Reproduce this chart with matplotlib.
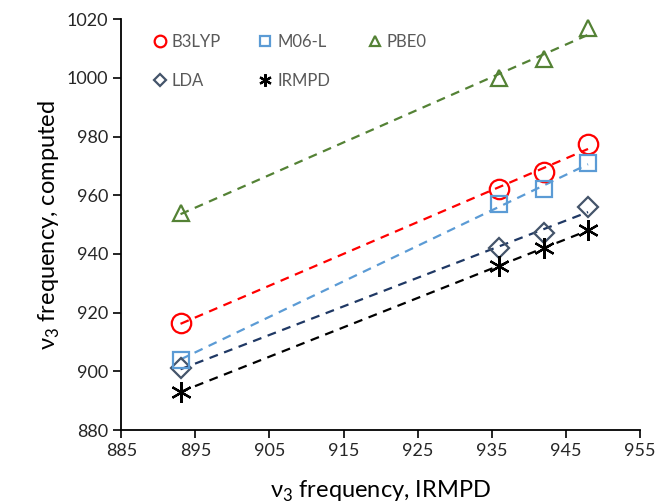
import numpy as np
import matplotlib
matplotlib.use("Agg")
import matplotlib.pyplot as plt

plt.rcParams['font.family'] = ['Lato', 'DejaVu Sans']
plt.rcParams['mathtext.fontset'] = 'custom'
plt.rcParams['mathtext.rm'] = 'Lato'

# experimental (IRMPD) frequencies on the x axis
irmpd_x = [893, 936, 942, 948]

# computed frequencies per functional
b3lyp = [916.5, 962, 968, 977.5]
m06l = [904, 957, 962, 971]
pbe0 = [954, 1000, 1006.5, 1017]
lda = [901, 942, 947, 956]
irmpd = [893, 936, 942, 948]

x_ticks = [885, 895, 905, 915, 925, 935, 945, 955]
y_ticks = [880, 900, 920, 940, 960, 980, 1000, 1020]

series = [
    # label, values, marker colour, line colour, marker, size
    ('B3LYP', b3lyp, '#FF0000', '#FF0000', 'o', 14),
    ('LDA', lda, '#44546A', '#1F3864', 'D', 10),
    ('M06-L', m06l, '#5B9BD5', '#5B9BD5', 's', 12),
    ('IRMPD', irmpd, '#000000', '#000000', (6, 2, 0), 15),
    ('PBE0', pbe0, '#548235', '#548235', '^', 12),
]

fig = plt.figure(figsize=(6.59, 5.03), dpi=100)
ax = fig.add_axes([0.184, 0.145, 0.787, 0.817])

xs = np.array(irmpd_x, dtype=float)
handles = []
for label, vals, mcol, lcol, mk, ms in series:
    # linear trendline, dashed, like the spreadsheet original
    k, b = np.polyfit(xs, vals, 1)
    ax.plot(xs, k * xs + b, linestyle=(0, (4, 3)), color=lcol, lw=1.6, zorder=2)
    h, = ax.plot(xs, vals, linestyle='none', marker=mk, markersize=ms,
                 markerfacecolor='none', markeredgecolor=mcol,
                 markeredgewidth=1.6, zorder=3, label=label)
    handles.append(h)

ax.set_xlim(885, 955)
ax.set_ylim(880, 1020)
ax.set_xticks(x_ticks)
ax.set_yticks(y_ticks)
ax.tick_params(direction='out', length=6, width=1.2, labelsize=13,
               colors='black', labelcolor='#262626')
for side in ('top', 'right'):
    ax.spines[side].set_visible(False)
for side in ('left', 'bottom'):
    ax.spines[side].set_linewidth(1.3)

ax.set_xlabel('ν$_3$ frequency, IRMPD', fontsize=17, labelpad=14)
ax.set_ylabel('ν$_3$ frequency, computed', fontsize=17, labelpad=3)

leg = ax.legend(handles=handles, ncol=3, loc='upper left',
                bbox_to_anchor=(0.032, 1.0), frameon=False, fontsize=12,
                markerscale=0.6, handlelength=0.8, handletextpad=0.3,
                columnspacing=2.3, labelspacing=1.35)
for t in leg.get_texts():
    t.set_color('#595959')

fig.savefig('out.png', dpi=100)
